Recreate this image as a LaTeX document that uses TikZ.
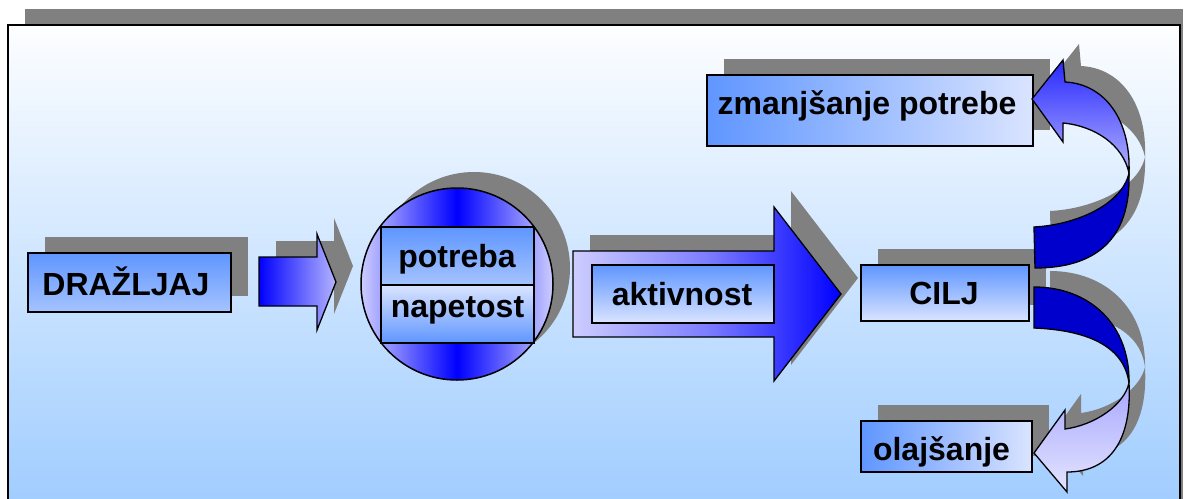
\documentclass[tikz,border=0pt]{standalone}
\usepackage{fontspec}
\setmainfont{Liberation Sans}
\usetikzlibrary{shadows}

\definecolor{shadowgray}{RGB}{128,128,128}
\definecolor{bgtop}{RGB}{253,254,255}
\definecolor{bgbottom}{RGB}{155,202,255}
\definecolor{boxblue}{RGB}{95,150,255}
\definecolor{boxmid}{RGB}{165,195,255}
\definecolor{boxpale}{RGB}{218,228,255}
\definecolor{pureblue}{RGB}{0,0,255}
\definecolor{darkblue}{RGB}{0,0,204}
\definecolor{lavender}{RGB}{205,205,255}
\definecolor{lavmid}{RGB}{125,125,255}
\definecolor{smallend}{RGB}{180,180,255}
\definecolor{headblue}{RGB}{40,40,255}
\definecolor{turnlav}{RGB}{178,178,255}
\definecolor{lowtop}{RGB}{168,168,255}
\definecolor{lowend}{RGB}{228,228,255}

% curved arrows on the right: dark back face and shaded front face
\def\upDark{(1035,268) .. controls (1095,268) and (1131,240) .. (1129,173)
  .. controls (1122,205) and (1075,225) .. (1034,227) -- cycle}
\def\upLight{(1129,173) .. controls (1131,120) and (1105,84) .. (1065,82)
  -- (1063,60) -- (1032,99) -- (1063,142) -- (1063,123)
  .. controls (1095,126) and (1123,145) .. (1129,173) -- cycle}
\def\lowDark{(1034,287) .. controls (1090,287) and (1130,325) .. (1129,383)
  .. controls (1124,345) and (1085,330) .. (1034,328) -- cycle}
\def\lowLight{(1129,383) .. controls (1132,440) and (1110,472) .. (1067,472)
  -- (1067,492) -- (1034,453) -- (1065,410) -- (1065,429)
  .. controls (1095,425) and (1124,405) .. (1129,383) -- cycle}

\begin{document}
\begin{tikzpicture}[x=1pt,y=-1pt,
  sh/.style={drop shadow={shadow xshift=17pt,shadow yshift=16pt,opacity=1,fill=shadowgray}},
  box/.style={draw=black,line width=1.5pt,inner sep=0pt,rectangle},
  outline/.style={draw=black,line width=1.3pt,line join=miter},
  lbl/.style={font=\bfseries\fontsize{32}{38}\selectfont,anchor=base,inner sep=0pt}]

\useasboundingbox (0,0) rectangle (1185,498);
\clip (0,0) rectangle (1185,498);

% frame with its shadow
\fill[shadowgray] (25,9) rectangle (1183,530);
\shade[top color=bgtop,bottom color=bgbottom] (8,25) rectangle (1180,530);
\draw[line width=1.8pt] (8,25) rectangle (1180,530);

% stimulus
\node[box,sh,minimum width=203pt,minimum height=59pt,top color=boxblue,bottom color=boxmid]
  (drz) at (129.5,282.5) {};
\node[lbl] (tdrz) at (126,295) {DRAŽLJAJ};

% small arrow
\shadedraw[outline,sh,left color=pureblue,right color=smallend]
  (259,257) -- (317,257) -- (317,234) -- (336,282) -- (317,330) -- (317,306) -- (259,306) -- cycle;

% need / tension circle
\node[circle,draw=black,line width=1.5pt,minimum size=192pt,inner sep=0pt,sh,
  left color=lavender,right color=lavender,middle color=pureblue] (circ) at (457,284) {};
\node[box,minimum width=153pt,minimum height=58pt,top color=boxblue,bottom color=boxmid]
  (potr) at (457.5,256) {};
\node[box,minimum width=153pt,minimum height=58pt,top color=boxpale,bottom color=boxblue]
  (nap) at (457.5,314) {};
\node[lbl] (tpotr) at (457,267) {potreba};
\node[lbl] (tnap) at (457.5,317) {napetost};

% activity arrow
\shadedraw[outline,sh,left color=lavender,right color=pureblue,middle color=lavmid]
  (573,251) -- (774,251) -- (774,207) -- (841,294) -- (774,381) -- (774,337) -- (573,337) -- cycle;
\node[box,minimum width=182pt,minimum height=58pt,top color=boxblue,bottom color=boxpale]
  (akt) at (683,294) {};
\node[lbl] (takt) at (682,305) {aktivnost};

% goal
\node[box,sh,minimum width=168pt,minimum height=56pt,top color=boxblue,bottom color=boxpale]
  (cilj) at (945,293) {};
\node[lbl] (tcilj) at (944,304) {CILJ};

% outcomes
\node[box,sh,minimum width=326pt,minimum height=71pt,left color=boxblue,right color=boxpale]
  (zman) at (870,110.5) {};
\node[lbl] (tzman) at (867,114) {zmanjšanje potrebe};
\node[box,sh,minimum width=171pt,minimum height=51pt,left color=boxblue,right color=boxpale]
  (olaj) at (946.5,446.5) {};
\node[lbl] (tolaj) at (941.5,460) {olajšanje};

% curved arrows: shadows first, then faces
\begin{scope}[shift={(16,-16)}]
  \fill[shadowgray] \upDark;
  \fill[shadowgray] \upLight;
  \fill[shadowgray] \lowDark;
  \fill[shadowgray] \lowLight;
\end{scope}
\filldraw[outline,fill=darkblue] \upDark;
\shadedraw[outline,top color=headblue,bottom color=turnlav] \upLight;
\filldraw[outline,fill=darkblue] \lowDark;
\shadedraw[outline,top color=lowtop,bottom color=lowend] \lowLight;
\end{tikzpicture}
\end{document}
